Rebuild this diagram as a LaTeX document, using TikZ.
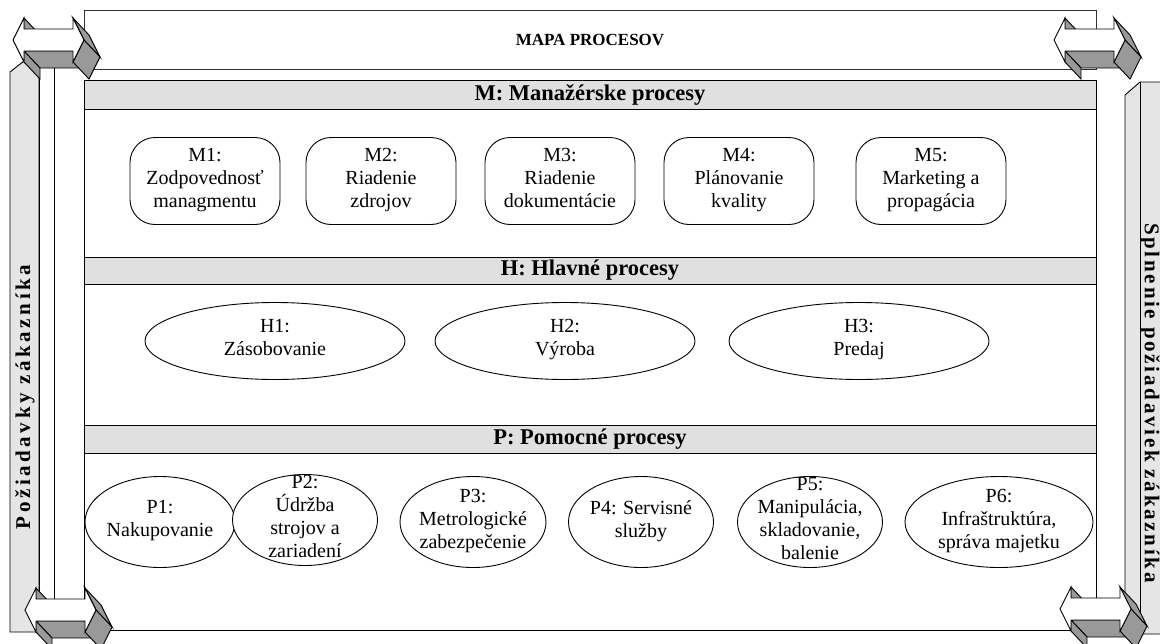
\documentclass[tikz,border=0pt]{standalone}
\usepackage{fontspec}
\setmainfont{Liberation Serif}
\usepackage{tikz}
\usetikzlibrary{%
  shapes.geometric,%
}

\begin{document}
\begin{tikzpicture}[x=1pt, y=-1pt, line width=0.9pt,
    font=\fontsize{20}{23}\selectfont,
    band/.style={draw, fill=gray!24},
    bandtitle/.style={font=\fontsize{22.5}{26}\selectfont\bfseries},
    bartitle/.style={font=\fontsize{21}{24}\selectfont\bfseries
      \addfontfeature{LetterSpace=#1}},
    mproc/.style={draw, fill=white, rounded corners=25pt, align=center,
      minimum width=150pt, minimum height=87pt,
      execute at begin node=\strut, execute at end node=\strut},
    hproc/.style={draw, fill=white, ellipse, align=center,
      minimum width=260pt, minimum height=77pt,
      execute at begin node=\strut, execute at end node=\strut},
    pproc/.style={draw, fill=white, ellipse, align=center, inner sep=-22pt,
      minimum width=#1, minimum height=91pt,
      execute at begin node=\strut, execute at end node=\strut},
    pproc/.default=148pt,
    bar/.style={draw, fill=gray!20},
    face/.style={draw, fill=gray!80}]

      \useasboundingbox (0,0) rectangle (1160,643);
      \fill [white] (0,0) rectangle (1160,643);

      \draw [black!80] (84,10) rectangle (1096,69);
      \node [font=\fontsize{17}{20}\selectfont\bfseries] (title) at (590,40) {MAPA PROCESOV};

      \draw (84,80) rectangle (1096,630);

      \draw [band] (84,80) rectangle (1096,109);
      \node [bandtitle] (mtitle) at (590,95) {M: Manažérske procesy};

      \node [mproc] (m1) at (205,181) {M1:\\Zodpovednosť\\managmentu};
      \node [mproc] (m2) at (381,181) {M2:\\Riadenie\\zdrojov};
      \node [mproc] (m3) at (560,181) {M3:\\Riadenie\\dokumentácie};
      \node [mproc] (m4) at (739,181) {M4:\\Plánovanie\\kvality};
      \node [mproc] (m5) at (931,181) {M5:\\Marketing a\\propagácia};

      \draw [band] (84,257) rectangle (1096,284);
      \node [bandtitle] (htitle) at (590,270) {H: Hlavné procesy};

      \node [hproc] (h1) at (275,341) {H1:\\Zásobovanie};
      \node [hproc] (h2) at (565,341) {H2:\\Výroba};
      \node [hproc] (h3) at (859,341) {H3:\\Predaj};

      \draw [band] (84,425) rectangle (1096,453);
      \node [bandtitle] (ptitle) at (590,439) {P: Pomocné procesy};

      \node [pproc=150pt] (p1) at (160,522) {P1:\\Nakupovanie};
      \node [pproc=145pt] (p2) at (305,520) {P2:\\Údržba\\strojov a\\zariadení};
      \node [pproc=146pt] (p3) at (473,522) {P3:\\Metrologické\\zabezpečenie};
      \node [pproc=145pt] (p4) at (641,522) {P4: Servisné\\služby};
      \node [pproc=145pt] (p5) at (810,522) {P5:\\Manipulácia,\\skladovanie,\\balenie};
      \node [pproc=188pt] (p6) at (999,522) {P6:\\Infraštruktúra,\\správa majetku};

      \draw [bar] (10,72) -- (24,61) -- (39,72) -- (39,632) -- (10,632) -- cycle;
      \draw [fill=white] (39,64) rectangle (54,632);
      \node [bartitle=17, rotate=90] (left) at (25,397) {Požiadavky zákazníka};

      \draw [bar] (1125,634) -- (1125,95) -- (1140,82) -- (1170,82) -- (1170,634) -- cycle;
      \draw (1140,82) -- (1140,634);
      \node [bartitle=13, rotate=-90] (right) at (1150,403) {Splnenie požiadaviek zákazníka};

      \foreach \dx/\dy in {0/0, 1041/0, 12/570, 1047/569} {
        \begin{scope}[shift={(\dx,\dy)}]
          \draw [face] (24,18) -- (24,29) -- (40,46) -- (40,35) -- cycle;
          \draw [face] (73,51) -- (24,51) -- (40,68) -- (89,68) -- cycle;
          \draw [face] (24,51) -- (24,62) -- (40,79) -- (40,68) -- cycle;
          \draw [face] (73,18) -- (84,40) -- (100,57) -- (89,35) -- cycle;
          \draw [face] (84,40) -- (73,62) -- (89,79) -- (100,57) -- cycle;
          \draw [fill=white] (13,40) -- (24,18) -- (24,29) -- (73,29) -- (73,18)
            -- (84,40) -- (73,62) -- (73,51) -- (24,51) -- (24,62) -- cycle;
        \end{scope}
      }

    \end{tikzpicture}
\end{document}
